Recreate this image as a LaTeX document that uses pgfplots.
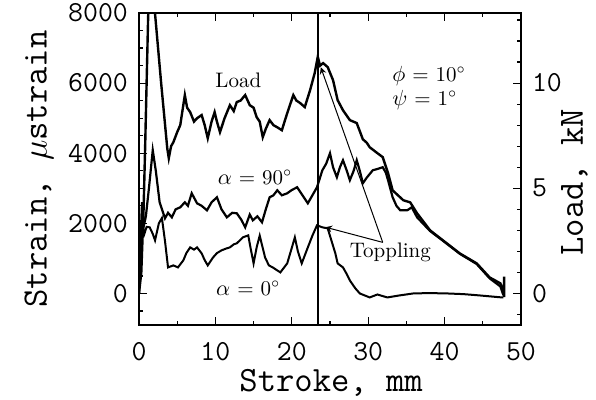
\documentclass[border=0pt]{standalone}
\usepackage{pgfplots}
\pgfplotsset{compat=1.18}
\begin{document}
\begin{tikzpicture}
\pgfplotsset{
  every axis/.append style={
    scale only axis, width=191pt, height=156pt,
    xmin=0, xmax=50,
    axis line style={line width=0.8pt},
    major tick length=4pt, minor tick length=2pt,
    every tick/.style={black, line width=0.6pt},
    tick label style={font=\fontsize{14.5}{14.5}\selectfont\ttfamily},
    /pgf/number format/assume math mode=true,
    /pgf/number format/1000 sep={},
    scaled ticks=false,
  }
}
\begin{axis}[
  ymin=-900, ymax=8000,
  xtick={0,10,...,50}, minor xtick={5,15,25,35,45},
  ytick={0,2000,4000,6000,8000},
  minor ytick={-500,500,1000,1500,2500,3000,3500,4500,5000,5500,6500,7000,7500},
  ytick pos=left,
  xlabel={Stroke, mm}, ylabel={Strain, $\mu$strain},
  label style={font=\fontsize{17.8}{17.8}\selectfont\ttfamily},
  xlabel style={at={(axis description cs:0.503,-0.186)},anchor=center},
  ylabel style={at={(axis description cs:-0.262,0.5)},anchor=center},
  xticklabel style={yshift=-5pt},
  yticklabel style={xshift=-2pt},
]
% alpha = 90 deg
\addplot[black, line width=1.1pt] coordinates {
(0,0)(0.2,1500)(0.4,2600)(0.6,1900)(0.9,2200)(1.3,3000)(1.8,4086)(2.2,3500)(2.7,2600)(3.4,2143)(3.8,2300)(4.3,2171)(4.8,2400)(5.4,2457)(6.0,2600)(6.4,2500)(6.9,2857)(7.6,2571)(8.2,2500)(8.9,2371)(9.5,2600)(10.2,2743)(10.8,2400)(11.5,2171)(12.2,2300)(12.8,2286)(13.4,2100)(13.9,1886)(14.5,2250)(14.9,2086)(15.5,2200)(16.1,2029)(16.6,2400)(17.1,2743)(17.6,2800)(18.1,2943)(18.7,2800)(19.4,2857)(20.0,2950)(20.7,3029)(21.4,2800)(22.1,2571)(22.7,2800)(23.3,3029)(24.0,3514)(24.5,3700)(25.0,4000)(25.4,3600)(25.9,3314)(26.3,3600)(26.7,3800)(27.2,3500)(27.6,3229)(28.1,3500)(28.5,3800)(28.9,3500)(29.3,3143)(29.8,3300)(30.6,3514)(31.2,3550)(31.9,3600)(32.3,3450)(32.6,3229)(33.2,2743)(33.7,2500)(34.2,2371)(35.1,2371)(35.7,2457)(36.4,2171)(38.1,1780)(39.8,1500)(42.0,1130)(44.2,840)(45.9,430)(47.3,200)(47.7,-50)
};
% alpha = 0 deg
\addplot[black, line width=1pt] coordinates {
(0,0)(0.2,1200)(0.4,2000)(0.7,1700)(1.0,1900)(1.4,1886)(1.8,1700)(2.1,1514)(2.6,2000)(3.0,2150)(3.4,1500)(3.8,743)(4.5,800)(5.1,743)(5.8,943)(6.2,1150)(6.7,1314)(7.2,1250)(7.6,1314)(8.2,1143)(8.6,950)(9.0,800)(9.7,1029)(10.2,1150)(10.8,1229)(11.4,1280)(11.9,1314)(12.4,1400)(12.8,1429)(13.6,1600)(14.3,1657)(14.6,1300)(15.0,857)(15.4,1314)(15.8,1650)(16.5,1029)(17.0,800)(17.5,743)(18.5,600)(19.4,857)(20.0,1300)(20.4,1600)(20.8,1200)(21.3,857)(22.1,1314)(22.7,1650)(23.3,1943)(24.0,1886)(24.7,1857)(25.2,1500)(25.7,1143)(26.0,857)(26.7,743)(27.2,550)(27.6,371)(28.3,150)(28.9,0)(30.2,-114)(31.2,-30)(32.5,-114)(34,-60)(35.9,0)(38,10)(40.3,0)(42.5,-20)(44.6,-57)(47.5,-114)(47.7,-114)
};
% vertical line
\addplot[black, line width=0.8pt] coordinates {(23.4,-900)(23.4,8000)};
\node[font=\fontsize{10.5}{10.5}\selectfont] at (axis cs:13.0,6086) {Load};
\node[font=\fontsize{10.5}{10.5}\selectfont] at (axis cs:15.2,3314) {$\alpha$~=~90$^\circ$};
\node[font=\fontsize{10.5}{10.5}\selectfont] at (axis cs:14.3,143) {$\alpha$~=~0$^\circ$};
\node[font=\fontsize{10.5}{12}\selectfont, anchor=west, align=left, inner sep=0pt] at (axis cs:33.1,5857) {$\phi$~=~10$^\circ$\\$\psi$~=~1$^\circ$};
\node[font=\fontsize{10.5}{10.5}\selectfont] at (axis cs:32.9,1171) {Toppling};
\draw[line width=0.5pt, ->, >=stealth] (axis cs:31.9,1457) -- (axis cs:23.8,6450);
\draw[line width=0.5pt, ->, >=stealth] (axis cs:31.9,1457) -- (axis cs:24.4,1890);
\end{axis}
\begin{axis}[
  ymin=-1.5, ymax=13.3333,
  hide x axis,
  ytick pos=right,
  ytick={0,5,10}, minor ytick={-1,1,2,3,4,6,7,8,9,11,12,13},
  ylabel={Load, kN},
  label style={font=\fontsize{17.8}{17.8}\selectfont\ttfamily},
  ylabel style={at={(axis description cs:1.14,0.458)},anchor=center},
  yticklabel style={xshift=2pt},
]
\addplot[black, line width=1.2pt] coordinates {
(0,0)(0.3,1.0)(0.6,4.0)(0.8,6.9)(1.2,13.2)(1.7,15.5)(2.1,13.3)(2.9,10)(3.7,6.9)(3.9,6.43)(4.2,7.0)(4.5,7.19)(5.0,7.67)(5.4,8.0)(6.0,9.43)(6.3,8.83)(6.7,8.62)(7.2,8.17)(7.6,8.33)(8.2,8.48)(8.6,8.0)(9.0,7.38)(9.5,8.17)(9.9,8.62)(10.2,8.17)(10.6,7.67)(11.2,8.33)(11.9,8.95)(12.4,8.67)(12.8,9.1)(13.3,9.17)(13.9,9.43)(14.5,8.95)(15.0,8.83)(15.4,8.38)(15.8,8.17)(16.2,7.43)(16.6,7.83)(17.1,8.24)(17.6,8.0)(18.1,7.9)(18.7,7.76)(19.4,8.57)(19.8,9.0)(20.2,9.43)(20.6,9.17)(21.1,9.05)(21.7,8.86)(22.4,9.67)(23.0,10.48)(23.4,11.25)(23.7,10.83)(24.1,10.95)(24.7,10.76)(25.4,10.14)(26.0,9.19)(26.7,8.71)(27.6,8.24)(28.5,8.1)(29.3,7.33)(29.8,7.17)(30.2,6.95)(31.2,6.67)(31.9,6.48)(32.6,5.72)(33.2,4.9)(34.6,4.43)(35.5,4.33)(36.4,3.81)(38.1,3.0)(39.8,2.52)(42.0,1.9)(44.2,1.43)(45.9,0.76)(47.3,0.48)(47.7,0.14)(47.8,-0.17)(47.8,0.8)
};
\end{axis}
\pgfresetboundingbox
\path[use as bounding box] (-69.5pt,-37.5pt) rectangle (228.5pt,162.5pt);
\end{tikzpicture}
\end{document}
